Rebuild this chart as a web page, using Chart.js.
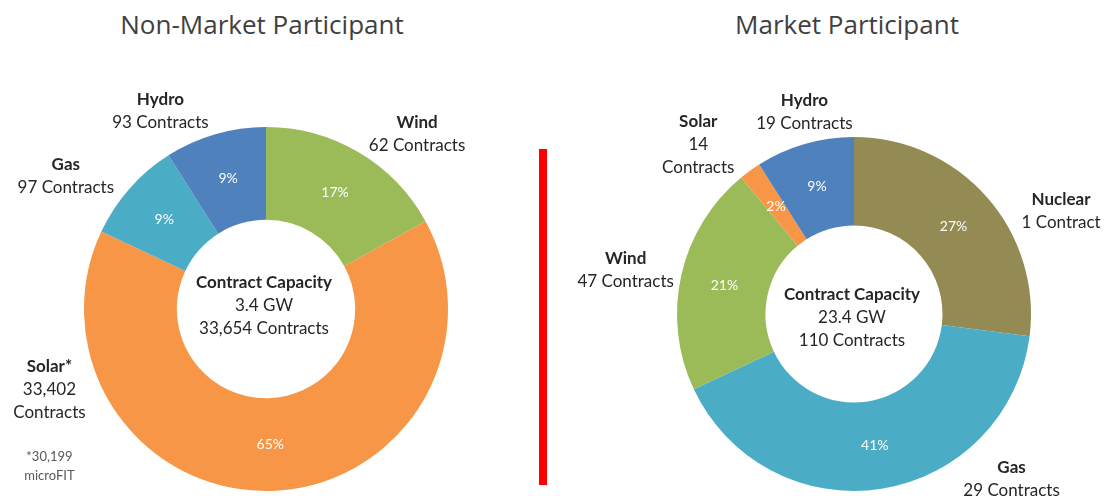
<!DOCTYPE html>
<html>
<head>
<meta charset="utf-8">
<script src="https://cdn.jsdelivr.net/npm/chart.js@4.4.1/dist/chart.umd.min.js"></script>
<style>
    body { margin: 0; background: #fff; width: 1105px; height: 496px; overflow: hidden; position: relative; }
    .title { position: absolute; top: 6px; font-family: "Open Sans", sans-serif; font-size: 26px; color: #404040; text-align: center; white-space: nowrap; }
    #divider { position: absolute; left: 539px; top: 149px; width: 8px; height: 336px; background: #ff0000; }
    canvas { position: absolute; top: 0; }
</style>
</head>
<body>
<div class="title" style="left:112px;width:300px">Non-Market Participant</div>
<div class="title" style="left:697px;width:300px">Market Participant</div>
<div id="divider"></div>
<canvas id="nonMarket" width="545" height="496" style="left:0"></canvas>
<canvas id="market" width="560" height="496" style="left:545px"></canvas>

<script>
// Non-Market Participant
var nmCategories = ["Wind", "Solar*", "Gas", "Hydro"];
var nmShare = [17, 65, 9, 9];
var nmContracts = ["62 Contracts", "33,402|Contracts", "97 Contracts", "93 Contracts"];
var nmCenter = ["Contract Capacity", "3.4 GW", "33,654 Contracts"];
var nmNote = ["*30,199", "microFIT"];

// Market Participant
var mCategories = ["Nuclear", "Gas", "Wind", "Solar", "Hydro"];
var mShare = [27, 41, 21, 2, 9];
var mContracts = ["1 Contract", "29 Contracts", "47 Contracts", "14|Contracts", "19 Contracts"];
var mCenter = ["Contract Capacity", "23.4 GW", "110 Contracts"];

var colors = {
    Wind: "#9bbb59",
    "Solar*": "#f79646",
    Solar: "#f79646",
    Gas: "#4bacc6",
    Hydro: "#4f81bd",
    Nuclear: "#948a54"
};

// where the outside labels sit, in units of the outer radius from the centre
var nmLabelPos = [[0.83, -0.96], [-1.19, 0.44], [-1.10, -0.73], [-0.58, -1.09]];
var mLabelPos = [[1.17, -0.58], [0.89, 0.93], [-1.29, -0.25], [-0.88, -0.96], [-0.28, -1.14]];

var labelFont = "Lato, 'Noto Sans', sans-serif";
var lineH = 23;

var donutLabels = {
    id: "donutLabels",
    afterDatasetsDraw: function (chart, args, opts) {
        var ctx = chart.ctx;
        var meta = chart.getDatasetMeta(0);
        var ds = chart.data.datasets[0];
        ctx.save();
        ctx.textAlign = "center";
        ctx.textBaseline = "middle";
        var cx, cy, r;
        meta.data.forEach(function (arc, i) {
            var p = arc.getProps(["x", "y", "outerRadius"], true);
            cx = p.x; cy = p.y; r = p.outerRadius;
            // percent inside the slice
            var mid = arc.tooltipPosition(true);
            ctx.fillStyle = "#ffffff";
            ctx.font = "14px " + labelFont;
            ctx.fillText(ds.data[i] + "%", mid.x, mid.y);

            // name and contracts outside
            var lines = [chart.data.labels[i]].concat(opts.contracts[i].split("|"));
            var lx = p.x + opts.pos[i][0] * r;
            var ly = p.y + opts.pos[i][1] * r - (lines.length - 1) * lineH / 2;
            ctx.fillStyle = "#262626";
            lines.forEach(function (t, j) {
                ctx.font = (j == 0 ? "bold " : "") + "17px " + labelFont;
                ctx.fillText(t, lx, ly + j * lineH);
            });
            if (opts.note && opts.noteIndex == i) {
                ctx.font = "13px " + labelFont;
                ctx.fillStyle = "#595959";
                ctx.fillText(opts.note[0], lx, ly + (lines.length - 1) * lineH + 45);
                ctx.fillText(opts.note[1], lx, ly + (lines.length - 1) * lineH + 64);
            }
        });
        // centre text
        ctx.fillStyle = "#262626";
        opts.center.forEach(function (t, j) {
            ctx.font = (j == 0 ? "bold " : "") + "17px " + labelFont;
            ctx.fillText(t, cx - 2, cy + opts.centerDy + (j - 1) * lineH);
        });
        ctx.restore();
    }
};

function makeDonut(id, labels, data, contracts, pos, center, centerDy, padding, cutout, note) {
    return new Chart(document.getElementById(id), {
        type: "doughnut",
        data: {
            labels: labels,
            datasets: [{
                data: data,
                backgroundColor: labels.map(function (l) { return colors[l]; }),
                borderWidth: 0
            }]
        },
        options: {
            responsive: false,
            animation: false,
            cutout: cutout,
            layout: { padding: padding },
            plugins: {
                legend: { display: false },
                tooltip: { enabled: false },
                donutLabels: {
                    contracts: contracts,
                    pos: pos,
                    center: center,
                    centerDy: centerDy,
                    note: note,
                    noteIndex: 1
                }
            }
        },
        plugins: [donutLabels]
    });
}

makeDonut("nonMarket", nmCategories, nmShare, nmContracts, nmLabelPos, nmCenter, -3,
    { top: 127, bottom: 5, left: 84, right: 97 }, "49%", nmNote);
makeDonut("market", mCategories, mShare, mContracts, mLabelPos, mCenter, 4,
    { top: 137, bottom: 5, left: 132, right: 74 }, "50%", null);
</script>
</body>
</html>
